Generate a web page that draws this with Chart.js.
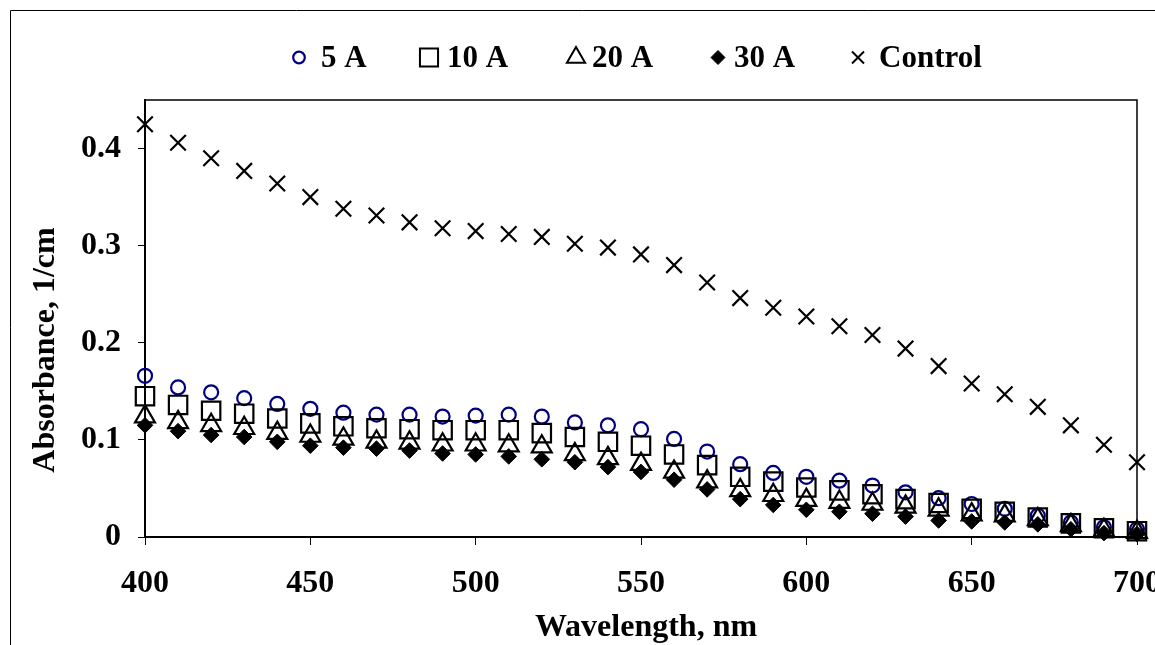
<!DOCTYPE html>
<html>
<head>
<meta charset="utf-8">
<script src="https://cdn.jsdelivr.net/npm/chart.js@4/dist/chart.umd.min.js"></script>
<style>
  html, body { margin: 0; padding: 0; background: #fff; }
  #chart { display: block; }
</style>
</head>
<body>
<canvas id="chart" width="1155" height="645"></canvas>
<script>
// Wavelength grid (nm)
const wavelengths = [400, 410, 420, 430, 440, 450, 460, 470, 480, 490, 500,
                     510, 520, 530, 540, 550, 560, 570, 580, 590, 600,
                     610, 620, 630, 640, 650, 660, 670, 680, 690, 700];

// Absorbance (1/cm) per treatment current
const abs5A = [0.166, 0.154, 0.149, 0.143, 0.137, 0.132, 0.128, 0.126, 0.126, 0.124, 0.125,
               0.126, 0.124, 0.118, 0.115, 0.111, 0.101, 0.088, 0.075, 0.066, 0.062,
               0.058, 0.053, 0.046, 0.040, 0.034, 0.029, 0.022, 0.015, 0.010, 0.008];
const abs10A = [0.145, 0.136, 0.130, 0.127, 0.122, 0.117, 0.114, 0.112, 0.111, 0.110, 0.110,
                0.110, 0.107, 0.103, 0.098, 0.094, 0.085, 0.074, 0.062, 0.057, 0.051,
                0.048, 0.044, 0.039, 0.035, 0.029, 0.026, 0.020, 0.014, 0.009, 0.006];
const abs20A = [0.124, 0.118, 0.115, 0.112, 0.107, 0.104, 0.101, 0.098, 0.097, 0.095, 0.095,
                0.094, 0.093, 0.085, 0.081, 0.075, 0.067, 0.057, 0.048, 0.043, 0.038,
                0.036, 0.034, 0.031, 0.028, 0.023, 0.022, 0.018, 0.012, 0.007, 0.005];
const abs30A = [0.115, 0.109, 0.105, 0.103, 0.098, 0.094, 0.092, 0.091, 0.089, 0.086, 0.085,
                0.083, 0.080, 0.077, 0.072, 0.067, 0.059, 0.049, 0.039, 0.033, 0.028,
                0.026, 0.024, 0.021, 0.017, 0.016, 0.015, 0.013, 0.008, 0.004, 0.003];
const absControl = [0.425, 0.406, 0.390, 0.377, 0.364, 0.350, 0.338, 0.331, 0.324, 0.318, 0.315,
                    0.312, 0.309, 0.302, 0.298, 0.291, 0.280, 0.262, 0.246, 0.236, 0.227,
                    0.217, 0.208, 0.194, 0.176, 0.158, 0.147, 0.134, 0.115, 0.095, 0.077];

const seriesLabels = ['5 A', '10 A', '20 A', '30 A', 'Control'];
const xTickValues = [400, 450, 500, 550, 600, 650, 700];
const yTickValues = [0, 0.1, 0.2, 0.3, 0.4];

const FONT = "'Liberation Serif', 'Times New Roman', serif";
const tickFont = { family: FONT, size: 32, weight: 'bold' };
const TITLE_SIZE = 32;
const LEGEND_SIZE = 31;

const toPoints = arr => arr.map((v, i) => ({ x: wavelengths[i], y: v }));

// Marker appearance per series (plot size, legend size)
const styles = [
  { pointStyle: 'circle',   color: '#000080', fill: 'rgba(0,0,0,0)', r: 7,    bw: 2.2, lr: 5.8,  lbw: 2.2 },
  { pointStyle: 'rect',     color: '#000000', fill: 'rgba(0,0,0,0)', r: 13,   bw: 2.2, lr: 12.8, lbw: 2 },
  { pointStyle: 'triangle', color: '#000000', fill: 'rgba(0,0,0,0)', r: 11.5, bw: 2.2, lr: 10.5, lbw: 2 },
  { pointStyle: 'rectRot',  color: '#000000', fill: '#000000',       r: 7.8,  bw: 1, lr: 7,    lbw: 1 },
  { pointStyle: 'crossRot', color: '#000000', fill: 'rgba(0,0,0,0)', r: 11,   bw: 2.2, lr: 8.5,  lbw: 2 }
];
const seriesValues = [abs5A, abs10A, abs20A, abs30A, absControl];

const datasets = seriesValues.map((vals, i) => ({
  label: seriesLabels[i],
  data: toPoints(vals),
  showLine: false,
  pointStyle: styles[i].pointStyle,
  pointRadius: styles[i].r,
  pointHoverRadius: styles[i].r,
  pointBorderWidth: styles[i].bw,
  pointBorderColor: styles[i].color,
  pointBackgroundColor: styles[i].fill,
  clip: false,
  order: seriesValues.length - i
}));

// Legend layout: key centre and text start along the row
const legendKeyX = [299, 429, 576, 718, 858];
const legendTextX = [321, 447, 592, 734, 879];
const legendKeyY = 57.5;
const legendBaseline = 67;

const decorations = {
  id: 'decorations',
  afterDraw(chart) {
    const ctx = chart.ctx;
    const area = chart.chartArea;
    ctx.save();

    // outer chart frame (left and top edges inside the canvas)
    ctx.strokeStyle = '#000';
    ctx.lineWidth = 1;
    ctx.beginPath();
    ctx.moveTo(10.5, 645);
    ctx.lineTo(10.5, 10.5);
    ctx.lineTo(1155, 10.5);
    ctx.stroke();

    // plot area frame: top and right
    ctx.lineWidth = 1.5;
    ctx.beginPath();
    ctx.moveTo(area.left, area.top);
    ctx.lineTo(area.right, area.top);
    ctx.lineTo(area.right, area.bottom);
    ctx.stroke();

    // axis titles
    ctx.fillStyle = '#000';
    ctx.font = `bold ${TITLE_SIZE}px ${FONT}`;
    ctx.textAlign = 'center';
    ctx.textBaseline = 'alphabetic';
    ctx.fillText('Wavelength, nm', 646, 636);
    ctx.save();
    ctx.translate(54, 350);
    ctx.rotate(-Math.PI / 2);
    ctx.fillText('Absorbance, 1/cm', 0, 0);
    ctx.restore();

    // legend row
    ctx.font = `bold ${LEGEND_SIZE}px ${FONT}`;
    chart.data.datasets.forEach((ds, i) => {
      const st = styles[i];
      ctx.fillStyle = st.fill;
      ctx.strokeStyle = st.color;
      ctx.lineWidth = st.lbw;
      Chart.helpers.drawPoint(ctx, {
        pointStyle: st.pointStyle, radius: st.lr, rotation: 0, borderWidth: st.lbw
      }, legendKeyX[i], legendKeyY);
      ctx.fillStyle = '#000';
      ctx.textAlign = 'left';
      ctx.textBaseline = 'alphabetic';
      ctx.fillText(ds.label, legendTextX[i], legendBaseline);
    });
    ctx.restore();
  }
};

new Chart(document.getElementById('chart'), {
  type: 'scatter',
  data: { datasets },
  plugins: [decorations],
  options: {
    responsive: false,
    animation: false,
    devicePixelRatio: 1,
    layout: { padding: { top: 100, right: 18, left: 0, bottom: 0 } },
    plugins: { legend: { display: false }, tooltip: { enabled: false }, title: { display: false } },
    events: [],
    scales: {
      x: {
        type: 'linear',
        min: 400, max: 700,
        offset: false,
        afterBuildTicks: s => { s.ticks = xTickValues.map(v => ({ value: v })); },
        afterFit: s => { s.height = 645 - 537; s.paddingLeft = 0; s.paddingRight = 0; },
        border: { display: true, color: '#000', width: 2 },
        grid: { drawOnChartArea: false, drawTicks: true, tickLength: 8, color: '#000', tickWidth: 1 },
        ticks: {
          color: '#000', font: tickFont, padding: 20, maxRotation: 0, autoSkip: false,
          callback: v => String(v)
        }
      },
      y: {
        type: 'linear',
        min: 0, max: 0.45,
        afterBuildTicks: s => { s.ticks = yTickValues.map(v => ({ value: v })); },
        afterFit: s => { s.width = 145; s.paddingTop = 0; s.paddingBottom = 0; },
        border: { display: true, color: '#000', width: 2 },
        grid: { drawOnChartArea: false, drawTicks: true, tickLength: 7, color: '#000', tickWidth: 1 },
        ticks: {
          color: '#000', font: tickFont, padding: 17, autoSkip: false,
          callback: v => (v === 0 ? '0' : v.toFixed(1))
        }
      }
    }
  }
});
</script>
</body>
</html>
